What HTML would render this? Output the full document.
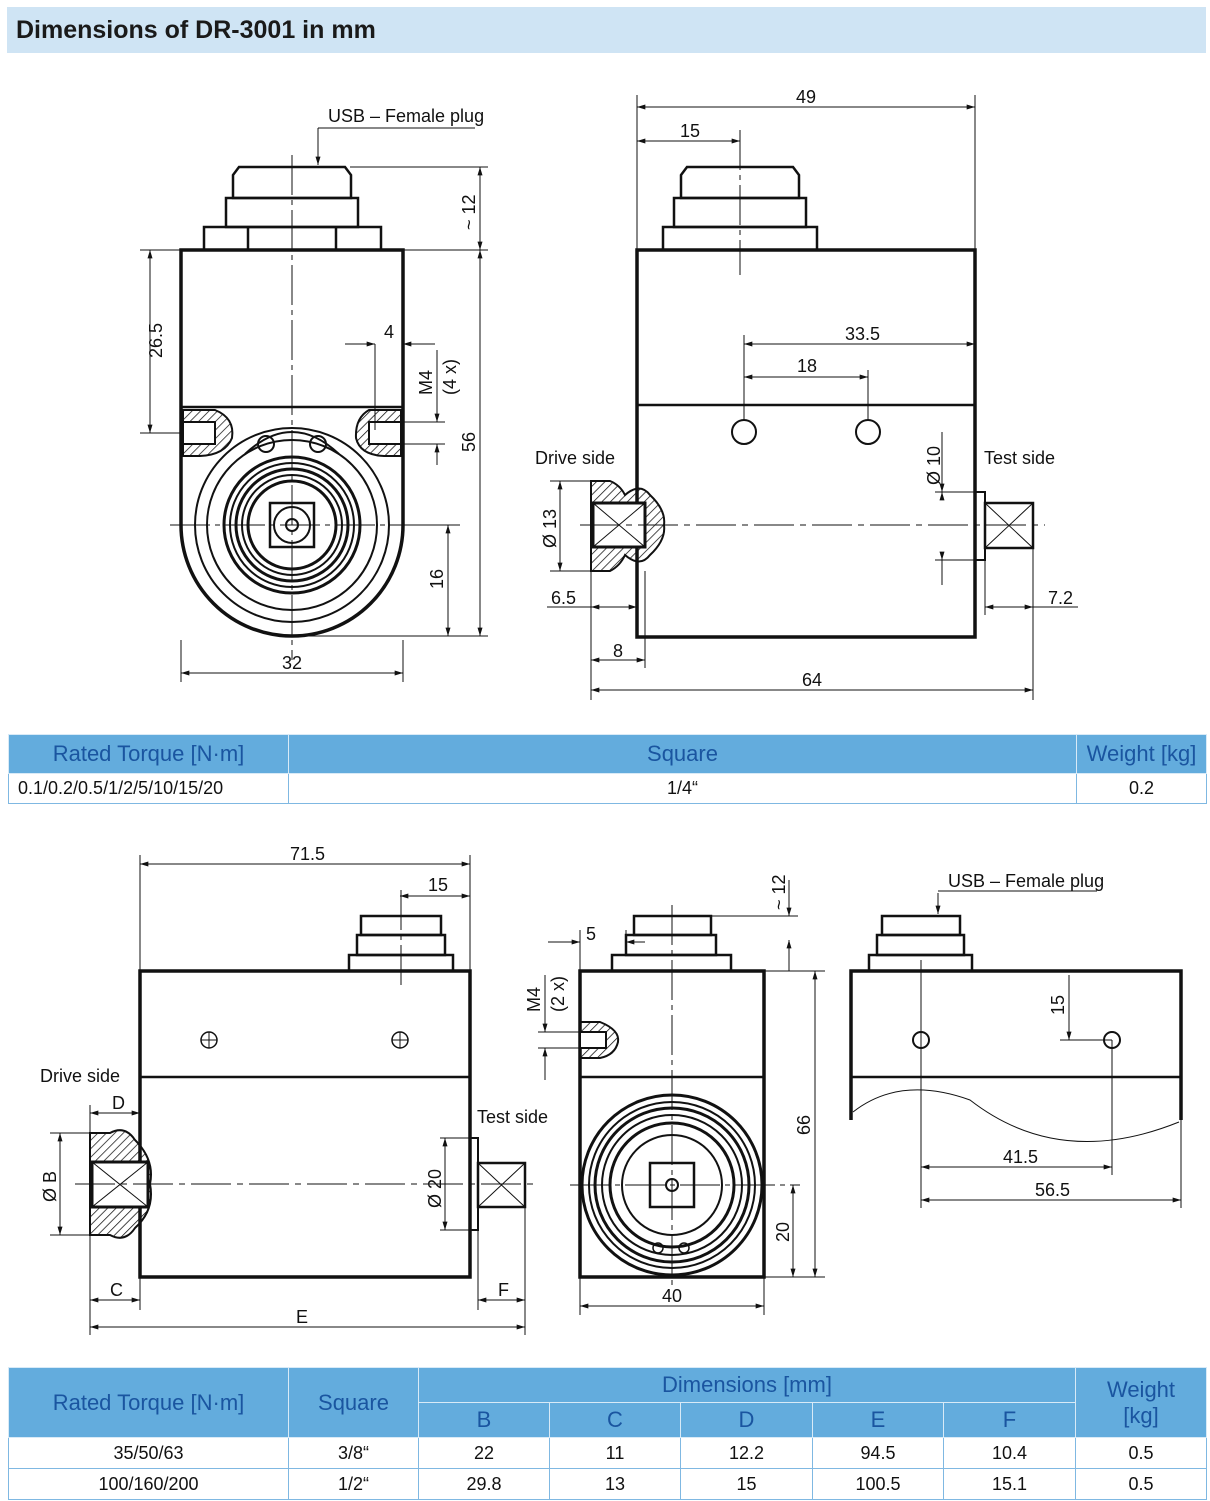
<!DOCTYPE html>
<html><head><meta charset="utf-8"><style>
body{margin:0;width:1210px;height:1501px;background:#fff;position:relative;overflow:hidden;font-family:"Liberation Sans",sans-serif}
.title{position:absolute;left:7px;top:7px;width:1199px;height:46px;background:#cfe4f4;font-weight:bold;font-size:25px;color:#1a1a1a;line-height:46px;padding-left:9px;box-sizing:border-box}
table{position:absolute;border-collapse:collapse;font-family:"Liberation Sans",sans-serif}
td{border:1px solid #7fb8e2;text-align:center;padding:0}
.h td{background:#63acdd;color:#1a55a0;font-size:22px;border-color:#d8eaf7}
.r td{font-size:18px;color:#111}
svg{position:absolute;left:0;top:0}
svg text{font-family:"Liberation Sans Narrow","Liberation Sans",sans-serif;font-size:18px;fill:#111}
</style></head><body>
<div class="title">Dimensions of DR-3001 in mm</div>

<svg width="1210" height="1501" viewBox="0 0 1210 1501">
<defs>
<marker id="a" viewBox="0 0 10 6" refX="10" refY="3" markerWidth="12" markerHeight="5" orient="auto-start-reverse"><path d="M0,0L10,3L0,6z" fill="#111"/></marker>
<pattern id="h" width="6" height="6" patternUnits="userSpaceOnUse" patternTransform="rotate(45)"><line x1="0" y1="0" x2="0" y2="6" stroke="#111" stroke-width="1.5"/></pattern>
</defs>
<g fill="none" stroke="#111">
<g stroke-width="2.5">
<path d="M239,167H345L351,175V198H233V175Z"/>
<rect x="226" y="198" width="132" height="29"/>
<rect x="204" y="227" width="177" height="23"/>
<line x1="248" y1="227" x2="248" y2="250"/><line x1="336" y1="227" x2="336" y2="250"/>
<path d="M181,250H403V525A111,111 0 0 1 181,525Z" stroke-width="3.5"/>
<line x1="181" y1="407" x2="403" y2="407"/>
</g>
<path d="M183,410H215Q235,418 232,438Q225,455 200,456H183Z" fill="url(#h)" stroke-width="2"/>
<path d="M401,410H369Q355,418 356,438Q360,455 384,456H401Z" fill="url(#h)" stroke-width="2"/>
<rect x="183" y="422" width="32" height="22" fill="#fff" stroke-width="2"/>
<rect x="369" y="422" width="32" height="22" fill="#fff" stroke-width="2"/>
<g stroke-width="2">
<circle cx="292" cy="525" r="97"/>
<circle cx="292" cy="525" r="85"/>
<circle cx="292" cy="525" r="68" stroke-width="3"/>
<circle cx="292" cy="525" r="62"/>
<circle cx="292" cy="525" r="56" stroke-width="3"/>
<circle cx="292" cy="525" r="50"/>
<circle cx="292" cy="525" r="44" stroke-width="3"/>
<rect x="270" y="503" width="44" height="44" stroke-width="2.5"/>
<circle cx="292" cy="525" r="18"/>
<circle cx="292" cy="525" r="6"/>
<circle cx="266" cy="444" r="8"/><circle cx="318" cy="444" r="8"/>
<path d="M245,454Q292,410 339,454"/>
</g>
<g stroke-width="1">
<line x1="292" y1="155" x2="292" y2="660" stroke-dasharray="40,5,5,5"/>
<line x1="170" y1="525" x2="460" y2="525" stroke-dasharray="40,5,5,5"/>
<line x1="318" y1="128" x2="318" y2="165" marker-end="url(#a)"/><line x1="318" y1="128" x2="475" y2="128"/>
<line x1="350" y1="167" x2="488" y2="167"/><line x1="403" y1="250" x2="488" y2="250"/>
<line x1="480" y1="167" x2="480" y2="250" marker-start="url(#a)" marker-end="url(#a)"/>
<line x1="480" y1="250" x2="480" y2="636" marker-start="url(#a)" marker-end="url(#a)"/>
<line x1="292" y1="636" x2="488" y2="636"/>
<line x1="140" y1="250" x2="181" y2="250"/><line x1="140" y1="433" x2="181" y2="433"/>
<line x1="150" y1="250" x2="150" y2="433" marker-start="url(#a)" marker-end="url(#a)"/>
<line x1="403" y1="525" x2="456" y2="525"/>
<line x1="448" y1="525" x2="448" y2="636" marker-start="url(#a)" marker-end="url(#a)"/>
<line x1="181" y1="640" x2="181" y2="682"/><line x1="403" y1="640" x2="403" y2="682"/>
<line x1="181" y1="673" x2="403" y2="673" marker-start="url(#a)" marker-end="url(#a)"/>
<line x1="375" y1="344" x2="375" y2="430"/><line x1="403" y1="344" x2="403" y2="410"/>
<line x1="345" y1="344" x2="375" y2="344" marker-end="url(#a)"/><line x1="403" y1="344" x2="435" y2="344" marker-start="url(#a)"/>
<line x1="401" y1="422" x2="445" y2="422"/><line x1="401" y1="444" x2="445" y2="444"/>
<line x1="437" y1="350" x2="437" y2="422" marker-end="url(#a)"/><line x1="437" y1="444" x2="437" y2="465" marker-start="url(#a)"/>
</g>
<g stroke-width="2.5">
<path d="M687,167H793L799,175V198H681V175Z"/>
<rect x="674" y="198" width="132" height="29"/>
<rect x="663" y="227" width="154" height="23"/>
<rect x="637" y="250" width="338" height="387" stroke-width="3.5"/>
<line x1="637" y1="405" x2="975" y2="405"/>
<circle cx="744" cy="432" r="12" stroke-width="2"/><circle cx="868" cy="432" r="12" stroke-width="2"/>
<rect x="985" y="503" width="48" height="45" stroke-width="2.5"/>
<rect x="975" y="492" width="10" height="68" stroke-width="2"/>
</g>
<path d="M591,481H610Q620,485 625,495Q640,482 650,495Q666,510 664,525Q666,540 650,555Q640,568 625,555Q620,566 610,571H591Z" fill="url(#h)" stroke-width="2"/>
<rect x="593" y="503" width="52" height="44" fill="#fff" stroke-width="3"/>
<path d="M593,503L645,547M645,503L593,547M985,503L1033,548M1033,503L985,548" stroke-width="1"/>
<g stroke-width="1">
<line x1="740" y1="130" x2="740" y2="275" stroke-dasharray="40,5,5,5"/>
<line x1="580" y1="525" x2="1045" y2="525" stroke-dasharray="40,6,6,6"/>
<line x1="637" y1="95" x2="637" y2="250"/><line x1="975" y1="95" x2="975" y2="250"/>
<line x1="637" y1="107" x2="975" y2="107" marker-start="url(#a)" marker-end="url(#a)"/>
<line x1="637" y1="141" x2="740" y2="141" marker-start="url(#a)" marker-end="url(#a)"/>
<line x1="744" y1="335" x2="744" y2="420"/><line x1="868" y1="370" x2="868" y2="420"/>
<line x1="744" y1="344" x2="975" y2="344" marker-start="url(#a)" marker-end="url(#a)"/>
<line x1="744" y1="377" x2="868" y2="377" marker-start="url(#a)" marker-end="url(#a)"/>
<line x1="935" y1="492" x2="985" y2="492"/><line x1="935" y1="560" x2="985" y2="560"/>
<line x1="942" y1="432" x2="942" y2="492" marker-end="url(#a)"/><line x1="942" y1="560" x2="942" y2="585"/>
<line x1="942" y1="500" x2="942" y2="492" marker-end="url(#a)"/><line x1="942" y1="552" x2="942" y2="560" marker-end="url(#a)"/>
<line x1="550" y1="481" x2="595" y2="481"/><line x1="550" y1="571" x2="595" y2="571"/>
<line x1="560" y1="481" x2="560" y2="571" marker-start="url(#a)" marker-end="url(#a)"/>
<line x1="591" y1="571" x2="591" y2="700"/><line x1="645" y1="571" x2="645" y2="668"/><line x1="1033" y1="548" x2="1033" y2="700"/>
<line x1="985" y1="560" x2="985" y2="615"/>
<line x1="547" y1="607" x2="591" y2="607"/><line x1="591" y1="607" x2="637" y2="607" marker-start="url(#a)" marker-end="url(#a)"/>
<line x1="985" y1="607" x2="1033" y2="607" marker-start="url(#a)" marker-end="url(#a)"/><line x1="1033" y1="607" x2="1078" y2="607"/>
<line x1="591" y1="660" x2="645" y2="660" marker-start="url(#a)" marker-end="url(#a)"/>
<line x1="591" y1="690" x2="1033" y2="690" marker-start="url(#a)" marker-end="url(#a)"/>
</g>
<g stroke-width="2.5">
<rect x="361" y="916" width="80" height="19"/>
<rect x="357" y="935" width="88" height="20"/>
<rect x="349" y="955" width="104" height="16"/>
<rect x="140" y="971" width="330" height="306" stroke-width="3.5"/>
<line x1="140" y1="1077" x2="470" y2="1077"/>
<rect x="478" y="1163" width="47" height="44" stroke-width="2.5"/>
<rect x="470" y="1138" width="8" height="92" stroke-width="2"/>
</g>
<circle cx="209" cy="1040" r="8" stroke-width="1.5"/><circle cx="400" cy="1040" r="8" stroke-width="1.5"/>
<path d="M201,1040h16M209,1032v16M392,1040h16M400,1032v16" stroke-width="1"/>
<path d="M90,1133H110Q125,1125 135,1140Q155,1160 150,1184Q155,1210 135,1228Q125,1243 110,1235H90Z" fill="url(#h)" stroke-width="2"/>
<rect x="92" y="1162" width="56" height="45" fill="#fff" stroke-width="3"/>
<path d="M92,1162L148,1207M148,1162L92,1207M478,1163L525,1207M525,1163L478,1207" stroke-width="1"/>
<g stroke-width="1">
<line x1="401" y1="890" x2="401" y2="985" stroke-dasharray="40,5,5,5"/>
<line x1="75" y1="1184" x2="535" y2="1184" stroke-dasharray="40,6,6,6"/>
<line x1="140" y1="855" x2="140" y2="971"/><line x1="470" y1="855" x2="470" y2="971"/>
<line x1="140" y1="864" x2="470" y2="864" marker-start="url(#a)" marker-end="url(#a)"/>
<line x1="400" y1="896" x2="470" y2="896" marker-start="url(#a)" marker-end="url(#a)"/>
<line x1="90" y1="1105" x2="90" y2="1335"/><line x1="140" y1="1277" x2="140" y2="1310"/>
<line x1="90" y1="1113" x2="140" y2="1113" marker-start="url(#a)" marker-end="url(#a)"/>
<line x1="50" y1="1133" x2="92" y2="1133"/><line x1="50" y1="1235" x2="92" y2="1235"/>
<line x1="60" y1="1133" x2="60" y2="1235" marker-start="url(#a)" marker-end="url(#a)"/>
<line x1="440" y1="1138" x2="470" y2="1138"/><line x1="440" y1="1230" x2="470" y2="1230"/>
<line x1="445" y1="1138" x2="445" y2="1230" marker-start="url(#a)" marker-end="url(#a)"/>
<line x1="478" y1="1207" x2="478" y2="1310"/><line x1="525" y1="1207" x2="525" y2="1335"/>
<line x1="90" y1="1300" x2="140" y2="1300" marker-start="url(#a)" marker-end="url(#a)"/>
<line x1="478" y1="1300" x2="525" y2="1300" marker-start="url(#a)" marker-end="url(#a)"/>
<line x1="90" y1="1327" x2="525" y2="1327" marker-start="url(#a)" marker-end="url(#a)"/>
</g>
<g stroke-width="2.5">
<rect x="634" y="916" width="77" height="19"/>
<rect x="626" y="935" width="90" height="20"/>
<rect x="612" y="955" width="119" height="16"/>
<rect x="580" y="971" width="184" height="306" stroke-width="3.5"/>
<line x1="580" y1="1077" x2="764" y2="1077"/>
<circle cx="672" cy="1185" r="90" stroke-width="3"/>
<circle cx="672" cy="1185" r="83" stroke-width="2"/>
<circle cx="672" cy="1185" r="77" stroke-width="3"/>
<circle cx="672" cy="1185" r="70" stroke-width="2"/>
<circle cx="672" cy="1185" r="62" stroke-width="3"/>
<circle cx="672" cy="1185" r="50" stroke-width="2"/>
<rect x="650" y="1163" width="44" height="44" stroke-width="2.5"/>
<circle cx="672" cy="1185" r="6" stroke-width="2"/>
<circle cx="658" cy="1248" r="5" stroke-width="1.5"/><circle cx="684" cy="1248" r="5" stroke-width="1.5"/>
</g>
<path d="M580,1022H600Q620,1030 618,1042Q615,1055 600,1058H580Z" fill="url(#h)" stroke-width="2"/>
<rect x="580" y="1032" width="26" height="16" fill="#fff" stroke-width="2"/>
<g stroke-width="1">
<line x1="672" y1="905" x2="672" y2="1290" stroke-dasharray="40,5,5,5"/>
<line x1="570" y1="1185" x2="800" y2="1185" stroke-dasharray="40,5,5,5"/>
<line x1="711" y1="916" x2="798" y2="916"/><line x1="764" y1="971" x2="825" y2="971"/>
<line x1="789" y1="880" x2="789" y2="916" marker-end="url(#a)"/><line x1="789" y1="971" x2="789" y2="940" marker-end="url(#a)"/>
<line x1="815" y1="971" x2="815" y2="1277" marker-start="url(#a)" marker-end="url(#a)"/>
<line x1="672" y1="1277" x2="825" y2="1277"/>
<line x1="793" y1="1185" x2="793" y2="1277" marker-start="url(#a)" marker-end="url(#a)"/>
<line x1="580" y1="1277" x2="580" y2="1315"/><line x1="764" y1="1277" x2="764" y2="1315"/>
<line x1="580" y1="1306" x2="764" y2="1306" marker-start="url(#a)" marker-end="url(#a)"/>
<line x1="580" y1="930" x2="580" y2="971"/><line x1="626" y1="930" x2="626" y2="955"/>
<line x1="548" y1="942" x2="580" y2="942" marker-end="url(#a)"/><line x1="645" y1="942" x2="626" y2="942" marker-end="url(#a)"/>
<line x1="538" y1="1032" x2="580" y2="1032"/><line x1="538" y1="1048" x2="580" y2="1048"/>
<line x1="545" y1="975" x2="545" y2="1032" marker-end="url(#a)"/><line x1="545" y1="1048" x2="545" y2="1080" marker-start="url(#a)"/>
</g>
<g stroke-width="2.5">
<rect x="882" y="916" width="78" height="19"/>
<rect x="877" y="935" width="87" height="20"/>
<rect x="869" y="955" width="103" height="16"/>
<path d="M851,1120V971H1181V1120" stroke-width="3.5"/>
<line x1="851" y1="1077" x2="1181" y2="1077"/>
<circle cx="921" cy="1040" r="8" stroke-width="2"/><circle cx="1112" cy="1040" r="8" stroke-width="2"/>
</g>
<path d="M853,1112Q900,1075 970,1100Q1060,1170 1179,1122" stroke-width="1"/>
<g stroke-width="1">
<line x1="921" y1="960" x2="921" y2="1208"/><line x1="1112" y1="1040" x2="1112" y2="1175"/><line x1="1181" y1="1120" x2="1181" y2="1208"/>
<line x1="921" y1="1167" x2="1112" y2="1167" marker-start="url(#a)" marker-end="url(#a)"/>
<line x1="921" y1="1200" x2="1181" y2="1200" marker-start="url(#a)" marker-end="url(#a)"/>
<line x1="1060" y1="1040" x2="1112" y2="1040"/>
<line x1="1069" y1="975" x2="1069" y2="1040" marker-end="url(#a)"/>
<line x1="938" y1="893" x2="938" y2="914" marker-end="url(#a)"/><line x1="938" y1="891" x2="1097" y2="891"/>
</g>
</g>
<text x="328" y="122">USB – Female plug</text>
<text transform="translate(162,358) rotate(-90)">26.5</text>
<text x="384" y="338">4</text>
<text transform="translate(432,395) rotate(-90)">M4</text>
<text transform="translate(456,395) rotate(-90)">(4 x)</text>
<text transform="translate(475,452) rotate(-90)">56</text>
<text transform="translate(475,230) rotate(-90)">~ 12</text>
<text transform="translate(443,589) rotate(-90)">16</text>
<text x="282" y="669">32</text>
<text x="796" y="103">49</text>
<text x="680" y="137">15</text>
<text x="845" y="340">33.5</text>
<text x="797" y="372">18</text>
<text x="535" y="464">Drive side</text>
<text x="984" y="464">Test side</text>
<text transform="translate(940,485) rotate(-90)">Ø 10</text>
<text transform="translate(556,548) rotate(-90)">Ø 13</text>
<text x="551" y="604">6.5</text>
<text x="1048" y="604">7.2</text>
<text x="613" y="657">8</text>
<text x="802" y="686">64</text>
<text x="290" y="860">71.5</text>
<text x="428" y="891">15</text>
<text x="40" y="1082">Drive side</text>
<text x="477" y="1123">Test side</text>
<text x="112" y="1109">D</text>
<text transform="translate(56,1202) rotate(-90)">Ø B</text>
<text transform="translate(441,1208) rotate(-90)">Ø 20</text>
<text x="110" y="1296">C</text>
<text x="498" y="1296">F</text>
<text x="296" y="1323">E</text>
<text x="586" y="940">5</text>
<text transform="translate(785,910) rotate(-90)">~ 12</text>
<text transform="translate(810,1135) rotate(-90)">66</text>
<text transform="translate(789,1242) rotate(-90)">20</text>
<text x="662" y="1302">40</text>
<text transform="translate(540,1012) rotate(-90)">M4</text>
<text transform="translate(564,1012) rotate(-90)">(2 x)</text>
<text x="948" y="887">USB – Female plug</text>
<text transform="translate(1064,1015) rotate(-90)">15</text>
<text x="1003" y="1163">41.5</text>
<text x="1035" y="1196">56.5</text>
</svg>

<table style="left:8px;top:734px;width:1199px">
<tr class="h" style="height:39px"><td style="width:279px">Rated Torque [N·m]</td><td style="width:787px">Square</td><td>Weight [kg]</td></tr>
<tr class="r" style="height:30px"><td style="text-align:left;padding-left:9px">0.1/0.2/0.5/1/2/5/10/15/20</td><td>1/4“</td><td>0.2</td></tr>
</table>

<table style="left:8px;top:1367px;width:1199px">
<tr class="h" style="height:35px"><td rowspan="2" style="width:279px">Rated Torque [N·m]</td><td rowspan="2" style="width:129px">Square</td><td colspan="5">Dimensions [mm]</td><td rowspan="2">Weight<br>[kg]</td></tr>
<tr class="h" style="height:35px"><td style="width:130px">B</td><td style="width:130px">C</td><td style="width:131px">D</td><td style="width:130px">E</td><td style="width:131px">F</td></tr>
<tr class="r" style="height:31px"><td>35/50/63</td><td>3/8“</td><td>22</td><td>11</td><td>12.2</td><td>94.5</td><td>10.4</td><td>0.5</td></tr>
<tr class="r" style="height:31px"><td>100/160/200</td><td>1/2“</td><td>29.8</td><td>13</td><td>15</td><td>100.5</td><td>15.1</td><td>0.5</td></tr>
</table>
</body></html>
